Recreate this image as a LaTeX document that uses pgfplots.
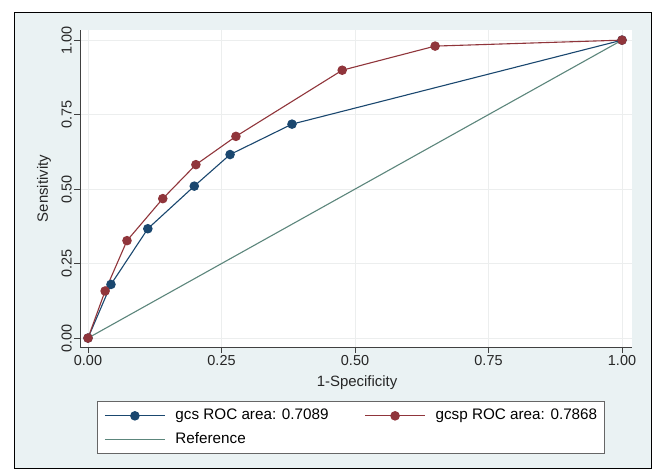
\documentclass[border=0pt]{standalone}
\usepackage{fontspec}
\setmainfont{Liberation Sans}
\usepackage{pgfplots}
\pgfplotsset{compat=1.18}
\definecolor{stbg}{RGB}{234,242,243}
\definecolor{stnavy}{RGB}{26,71,111}
\definecolor{stmaroon}{RGB}{144,53,59}
\definecolor{stref}{RGB}{92,134,124}
\definecolor{stgrid}{RGB}{236,238,238}
\begin{document}
\begin{tikzpicture}
\useasboundingbox (0,0) rectangle (653bp,-470bp);
\fill[white] (0,0) rectangle (653bp,-470bp);
\draw[fill=stbg, line width=0.9bp] (14bp,-12bp) rectangle (651bp,-468bp);
\begin{axis}[
  at={(80bp,-347bp)}, anchor=south west,
  scale only axis, width=552bp, height=317bp,
  xmin=-0.015, xmax=1.0187, ymin=-0.030, ymax=1.034,
  axis background/.style={fill=white},
  axis lines*=left,
  axis line style={color=black!75, line width=0.7bp},
  tick align=outside, major tick length=6bp,
  tick style={color=black!75, line width=0.7bp},
  xtick={0,0.25,0.5,0.75,1}, ytick={0,0.25,0.5,0.75,1},
  grid=major, major grid style={color=stgrid, line width=0.8bp},
  /pgf/number format/assume math mode=true,
  /pgf/number format/.cd, fixed, fixed zerofill, precision=2, /pgfplots/.cd,
  ticklabel style={font=\fontsize{14.5}{16}\selectfont, color=black!85},
  yticklabel style={rotate=90, anchor=south, inner sep=2bp},
  xticklabel style={inner sep=2bp},
  xlabel={1-Specificity}, ylabel={Sensitivity},
  label style={font=\fontsize{15}{17}\selectfont, color=black!85},
  xlabel style={at={(axis description cs:0.502,-0.1136)}, anchor=center},
  ylabel style={at={(axis description cs:-0.0652,0.5)}, anchor=center, rotate=0},
  legend columns=2,
  legend cell align=left,
  legend style={at={(axis description cs:0.0308,-0.1703)}, anchor=north west,
    draw=black!60, fill=white, line width=0.7bp,
    font=\fontsize{15.3}{17}\selectfont,
    nodes={inner sep=0pt, text height=11bp, text depth=3bp},
    inner xsep=7bp, inner ysep=7.5bp, row sep=9.5bp,
    /tikz/every even column/.append style={column sep=36bp},
    /tikz/every odd column/.append style={column sep=10bp}},
  legend image code/.code={
    \draw[mark repeat=2, mark phase=2] plot coordinates {(0bp,0bp) (30bp,0bp) (60bp,0bp)};},
]
\addplot[color=stnavy, line width=1.1bp, mark=*, mark size=4.2bp, mark options={fill=stnavy, draw=stnavy}] coordinates {
(0,0) (0.043,0.180) (0.112,0.367) (0.199,0.510) (0.266,0.616) (0.382,0.718) (1,1)};
\addlegendentry{gcs ROC area: 0.7089}
\addplot[color=stmaroon, line width=1.1bp, mark=*, mark size=4.2bp, mark options={fill=stmaroon, draw=stmaroon}] coordinates {
(0,0) (0.032,0.158) (0.073,0.327) (0.140,0.468) (0.202,0.582) (0.277,0.677) (0.476,0.899) (0.650,0.980) (1,1)};
\addlegendentry{gcsp ROC area: 0.7868\hspace{12bp}}
\addplot[color=stref, line width=1.1bp, mark=none] coordinates {(0,0) (1,1)};
\addlegendentry{Reference}
\end{axis}
\end{tikzpicture}
\end{document}
